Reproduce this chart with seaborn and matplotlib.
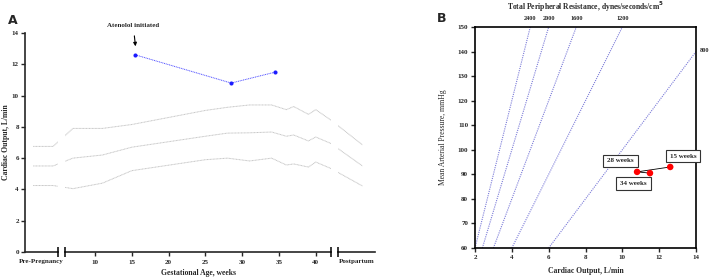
import numpy as np
import pandas as pd
import matplotlib
matplotlib.use('Agg')
import matplotlib.pyplot as plt
import seaborn as sns

# panel A data: cardiac output reference bands (upper / mean / lower) in L/min
pre_weeks = [1.6, 4.3]
preg_weeks = [7, 11, 15, 20, 25, 28, 31, 34, 36, 37, 39, 40, 42]
post_weeks = [46.3]

upper = [6.75, 6.75] + [7.9, 7.9, 8.15, 8.6, 9.05, 9.25, 9.4, 9.4, 9.1, 9.3, 8.8, 9.1, 8.45] + [6.85]
middle = [5.5, 5.5] + [6.0, 6.2, 6.7, 7.05, 7.4, 7.6, 7.62, 7.67, 7.4, 7.48, 7.1, 7.35, 6.95] + [5.5]
lower = [4.25, 4.25] + [4.05, 4.4, 5.2, 5.55, 5.9, 6.0, 5.82, 6.0, 5.56, 5.63, 5.43, 5.75, 5.35] + [4.22]
all_weeks = pre_weeks + preg_weeks + post_weeks

# patient measurements
pt_weeks = [15.5, 28.5, 34.5]
pt_co = [12.6, 10.8, 11.5]
pt_map = [93, 91, 90.5]
pt_labels = ['15 weeks', '28 weeks', '34 weeks']

# panel B: iso-resistance lines (dynes/s/cm^5)
tpr_labels = ['2400', '2000', '1600', '1200', '800']
tpr_co_start = [2, 2.4, 3, 4, 6]
tpr_co_end = [5, 6, 7.5, 10, 14]
tpr_map_end = [150, 150, 150, 150, 140]

sns.set_style('ticks')
plt.rcParams['font.family'] = ['Liberation Serif', 'DejaVu Serif']
plt.rcParams['font.size'] = 5
plt.rcParams['font.weight'] = 'bold'

fig = plt.figure(figsize=(7.09, 2.78), dpi=100)
W, H = 709, 278

def box(x0, x1, ytop, ybot):
    return [x0 / W, (H - ybot) / H, (x1 - x0) / W, (ybot - ytop) / H]

ax_pre = fig.add_axes(box(25, 58, 33, 252))
ax_mid = fig.add_axes(box(65, 331, 33, 252))
ax_post = fig.add_axes(box(338, 375, 33, 252))
axb = fig.add_axes(box(475, 696, 27, 248))

band_df = pd.DataFrame({'week': all_weeks, 'upper': upper, 'middle': middle, 'lower': lower})
pt_df = pd.DataFrame({'week': pt_weeks, 'co': pt_co, 'map': pt_map, 'label': pt_labels})

limits = [(0.49, 4.97), (5.92, 42.07), (43.0, 48.0)]
for ax, lim in zip([ax_pre, ax_mid, ax_post], limits):
    for col in ['upper', 'middle', 'lower']:
        sns.lineplot(data=band_df, x='week', y=col, ax=ax, color='#c4c4c4',
                     linestyle=(0, (1, 0.5)), lw=0.7, estimator=None)
    sns.lineplot(data=pt_df, x='week', y='co', ax=ax, color='#4a4aff',
                 linestyle=(0, (1, 0.8)), lw=0.7, marker='o', ms=2.2,
                 mec='#1a1aff', mfc='#1a1aff', estimator=None)
    ax.set_xlim(*lim)
    ax.set_ylim(0, 14)
    ax.set_xlabel('')
    ax.set_ylabel('')
    for s in ['top', 'right']:
        ax.spines[s].set_visible(False)
    ax.spines['bottom'].set_linewidth(1.2)
    ax.spines['left'].set_linewidth(1.2)
    ax.tick_params(length=3, width=1, labelsize=5, pad=1.5)

for ax in [ax_mid, ax_post]:
    ax.spines['left'].set_visible(False)
    ax.set_yticks([])

ax_pre.set_yticks(range(0, 15, 2))
ax_pre.set_xticks([np.mean(limits[0])])
ax_pre.set_xticklabels(['Pre-Pregnancy'])
ax_pre.tick_params(axis='x', length=0, pad=5)
ax_post.set_xticks([np.mean(limits[2])])
ax_post.set_xticklabels(['Postpartum'])
ax_post.tick_params(axis='x', length=0, pad=5)
ax_mid.set_xticks(range(10, 41, 5))
ax_mid.tick_params(axis='x', pad=3)
ax_mid.set_xlabel('Gestational Age, weeks', fontsize=5.5, fontweight='bold')
ax_mid.xaxis.set_label_coords(0.5, -0.078)
ax_pre.set_ylabel('Cardiac Output, L/min', fontsize=5.5, fontweight='bold')
ax_pre.yaxis.set_label_coords(-0.46, 0.5)

# break caps on the x axis segments
cap_kw = dict(marker='|', ms=7, mew=1.1, color='k', clip_on=False, zorder=5)
ax_pre.plot([limits[0][1]], [0], **cap_kw)
ax_mid.plot(list(limits[1]), [0, 0], ls='none', **cap_kw)
ax_post.plot([limits[2][0]], [0], **cap_kw)

ax_mid.annotate('Atenolol initiated', xy=(pt_weeks[0], 13.15), xytext=(pt_weeks[0] - 0.3, 14.45),
                ha='center', va='center', fontsize=5, fontweight='bold',
                arrowprops=dict(arrowstyle='-|>', color='k', lw=0.8, mutation_scale=5,
                                shrinkA=3, shrinkB=0), annotation_clip=False)

fig.text(8 / W, 1 - 20 / H, 'A', fontsize=9, fontweight='bold', family='DejaVu Sans', va='center')
fig.text(437 / W, 1 - 19 / H, 'B', fontsize=9, fontweight='bold', family='DejaVu Sans', va='center')

# panel B
for lab, c0, c1, m1 in zip(tpr_labels, tpr_co_start, tpr_co_end, tpr_map_end):
    sns.lineplot(x=[c0, c1], y=[60, m1], ax=axb, color='#7a7ad8',
                 linestyle=(0, (1, 1)), lw=0.8, estimator=None)
    if m1 >= 150:
        axb.annotate(lab, xy=(c1, 150), xytext=(0, 6), textcoords='offset points',
                     ha='center', va='center', fontsize=4.5, fontweight='bold',
                     annotation_clip=False)
    else:
        axb.annotate(lab, xy=(c1, m1), xytext=(3, 1), textcoords='offset points',
                     ha='left', va='center', fontsize=4.5, fontweight='bold',
                     annotation_clip=False)

sns.lineplot(data=pt_df, x='co', y='map', ax=axb, sort=False, color='k', lw=0.6, estimator=None)
sns.scatterplot(data=pt_df, x='co', y='map', ax=axb, color='#ff0000', s=22, edgecolor='none', zorder=5)

label_pos = {'15 weeks': (13.3, 97.4), '28 weeks': (9.9, 95.5), '34 weeks': (10.6, 86.2)}
for lab in pt_labels:
    axb.text(*label_pos[lab], lab, ha='center', va='center', fontsize=5, fontweight='bold',
             bbox=dict(boxstyle='square,pad=0.55', fc='white', ec='#333333', lw=0.8), zorder=6)

axb.set_xlim(2, 14)
axb.set_ylim(60, 150)
axb.set_xticks(range(2, 15, 2))
axb.set_yticks(range(60, 151, 10))
for s in axb.spines.values():
    s.set_linewidth(1.2)
    s.set_color('k')
axb.tick_params(length=3, width=1, labelsize=5, pad=2)
axb.set_xlabel('Cardiac Output, L/min', fontsize=5.5, fontweight='bold')
axb.xaxis.set_label_coords(0.5, -0.085)
axb.set_ylabel('Mean Arterial Pressure, mmHg', fontsize=5.5, fontweight='normal')
axb.yaxis.set_label_coords(-0.125, 0.5)
axb.set_title('Total Peripheral Resistance, dynes/seconds/cm$^5$', fontsize=5.5,
              fontweight='bold', pad=12)

fig.savefig('out.png', dpi=100)
